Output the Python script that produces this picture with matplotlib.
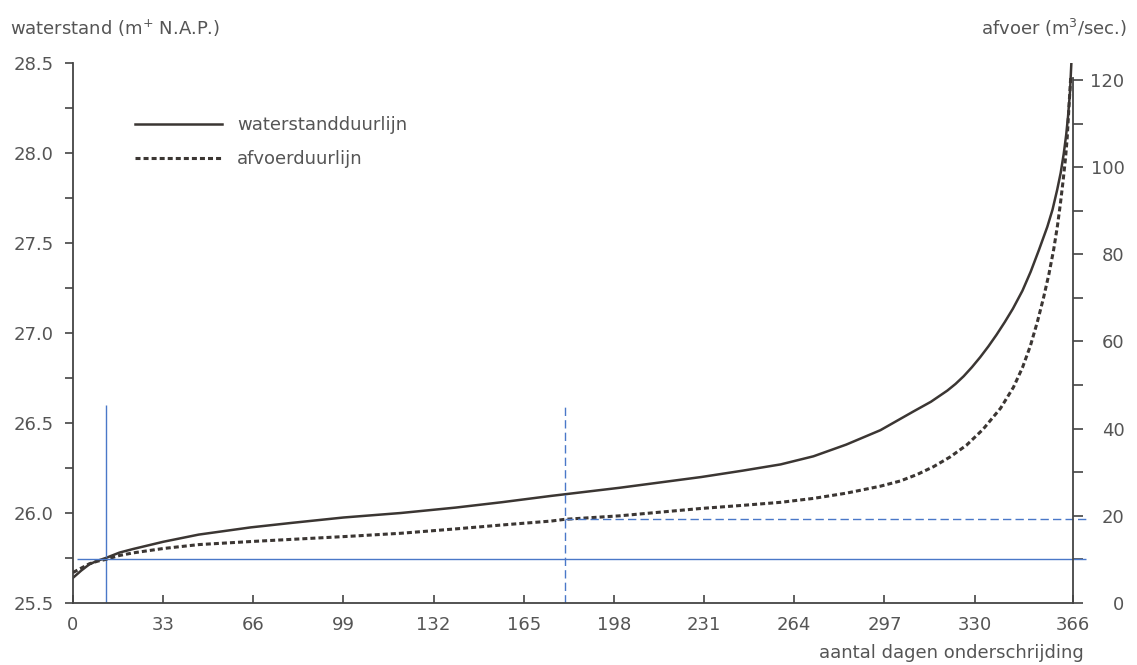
import numpy as np
import matplotlib
matplotlib.use("Agg")
import matplotlib.pyplot as plt
from matplotlib.ticker import MultipleLocator, FixedLocator, FormatStrFormatter

plt.rcParams['font.family'] = ['DejaVu Sans']
plt.rcParams['mathtext.default'] = 'regular'
plt.rcParams['lines.scale_dashes'] = False

# waterstandduurlijn (left axis, m + N.A.P.)
level_days = [0, 3, 6, 9, 12, 17, 22, 33, 46, 65, 80, 99, 120, 140, 157, 175,
              200, 230, 245, 259, 271, 283, 295.5, 307.7, 314, 320, 323, 326,
              329, 332, 335, 338, 341, 344, 347.5, 350.5, 353.5, 356.6, 358.5,
              360.2, 361.5, 362.6, 363.5, 364.2, 364.9, 365.4]
level = [25.64, 25.68, 25.715, 25.735, 25.75, 25.78, 25.80, 25.84, 25.88,
         25.92, 25.945, 25.975, 26.00, 26.03, 26.06, 26.095, 26.14, 26.20,
         26.235, 26.27, 26.315, 26.38, 26.46, 26.565, 26.618, 26.68, 26.717,
         26.76, 26.81, 26.865, 26.925, 26.99, 27.06, 27.135, 27.235, 27.34,
         27.46, 27.59, 27.685, 27.795, 27.89, 27.995, 28.10, 28.205, 28.34,
         28.50]

# afvoerduurlijn (right axis, m3/sec)
flow_days = [0, 3, 6, 9, 12, 17, 22, 33, 46, 65, 80, 101, 120, 140, 157, 175,
             180, 200, 230, 245, 259, 271, 283, 295.5, 302.8, 309, 315, 321, 327,
             333, 339.5, 344.2, 347.5, 350.4, 353, 355.2, 357.2, 358.9, 360.3,
             361.4, 362.4, 363.3, 363.9, 364.4, 365.2]
flow = [7.0, 8.0, 9.0, 9.6, 10.0, 10.9, 11.5, 12.5, 13.4, 14.1, 14.6, 15.3,
        16.0, 17.0, 17.9, 18.8, 19.2, 20.0, 21.7, 22.4, 23.1, 24.0, 25.2, 26.8,
        28.0, 29.5, 31.3, 33.5, 36.2, 39.8, 44.7, 49.5, 54.0, 59.0, 64.6, 70.0,
        75.5, 81.0, 86.5, 91.7, 97.0, 102.3, 107.0, 112.5, 121.0]

# blue reference lines
ref_days = [12, 180]
ref_top = 26.6
ref_flows = [10.0, 19.3]

x_ticks = [0, 33, 66, 99, 132, 165, 198, 231, 264, 297, 330, 366]

W, H = 1137, 665
fig = plt.figure(figsize=(W / 100, H / 100), dpi=100)
ax = fig.add_axes([73 / W, (H - 603) / H, 1000 / W, 540 / H])
ax2 = ax.twinx()

grey = '#555555'
line_col = '#3b3633'
blue = '#4a78c8'
fs = 13

l1, = ax.plot(level_days, level, color=line_col, lw=1.8)
l2, = ax2.plot(flow_days, flow, color=line_col, lw=2.2, linestyle=(0, (3.6, 2.2)))

ax.vlines(ref_days[0], 25.5, ref_top, color=blue, lw=1.0)
ax.vlines(ref_days[1], 25.5, ref_top, color=blue, lw=1.0, linestyle=(0, (6, 3)))
ax2.hlines(ref_flows[0], 1.5, 370.6, color=blue, lw=1.0, clip_on=False)
ax2.hlines(ref_flows[1], ref_days[1], 370.6, color=blue, lw=1.0,
           linestyle=(0, (6, 3)), clip_on=False)

ax.set_xlim(0, 366)
ax.set_ylim(25.5, 28.5)
ax2.set_ylim(0, 123.9)

for a in (ax, ax2):
    a.spines['top'].set_visible(False)
    for s in a.spines.values():
        s.set_color('#444444')
        s.set_linewidth(1.3)
ax.spines['right'].set_visible(False)
ax2.spines['left'].set_visible(False)
ax2.spines['bottom'].set_visible(False)
ax2.spines['right'].set_bounds(0, 120.5)

ax.xaxis.set_major_locator(FixedLocator(x_ticks))
ax.tick_params(axis='x', direction='in', length=6, width=1.2, color='#444444',
               labelsize=fs, labelcolor=grey, pad=9)
ax.yaxis.set_major_locator(MultipleLocator(0.5))
ax.yaxis.set_minor_locator(MultipleLocator(0.25))
ax.yaxis.set_major_formatter(FormatStrFormatter('%.1f'))
ax.tick_params(axis='y', which='both', direction='out', length=6, width=1.2,
               color='#444444', labelsize=fs, labelcolor=grey, pad=8)

ax2.yaxis.set_major_locator(MultipleLocator(20))
ax2.yaxis.set_minor_locator(MultipleLocator(10))
ax2.tick_params(axis='y', which='both', direction='out', length=7, width=1.2,
                color='#444444', labelsize=fs, labelcolor=grey, pad=30)
for lab in ax2.get_yticklabels():
    lab.set_horizontalalignment('right')

leg = ax.legend(handles=[l1, l2], labels=['waterstandduurlijn', 'afvoerduurlijn'],
                loc='upper left', bbox_to_anchor=(135 / W, 1 - 116 / H),
                bbox_transform=fig.transFigure, frameon=False, fontsize=fs,
                handlelength=4.8, handletextpad=0.85, labelspacing=0.9,
                borderpad=0, borderaxespad=0)
for t in leg.get_texts():
    t.set_color(grey)

fig.text(10 / W, 1 - 28 / H, 'waterstand (m$^{+}$ N.A.P.)', fontsize=fs,
         color=grey, va='center', ha='left')
fig.text(1127 / W, 1 - 28 / H, 'afvoer (m$^{3}$/sec.)', fontsize=fs,
         color=grey, va='center', ha='right')
fig.text(1084 / W, 1 - 653 / H, 'aantal dagen onderschrijding', fontsize=fs,
         color=grey, va='center', ha='right')

fig.savefig('out.png', dpi=100)
